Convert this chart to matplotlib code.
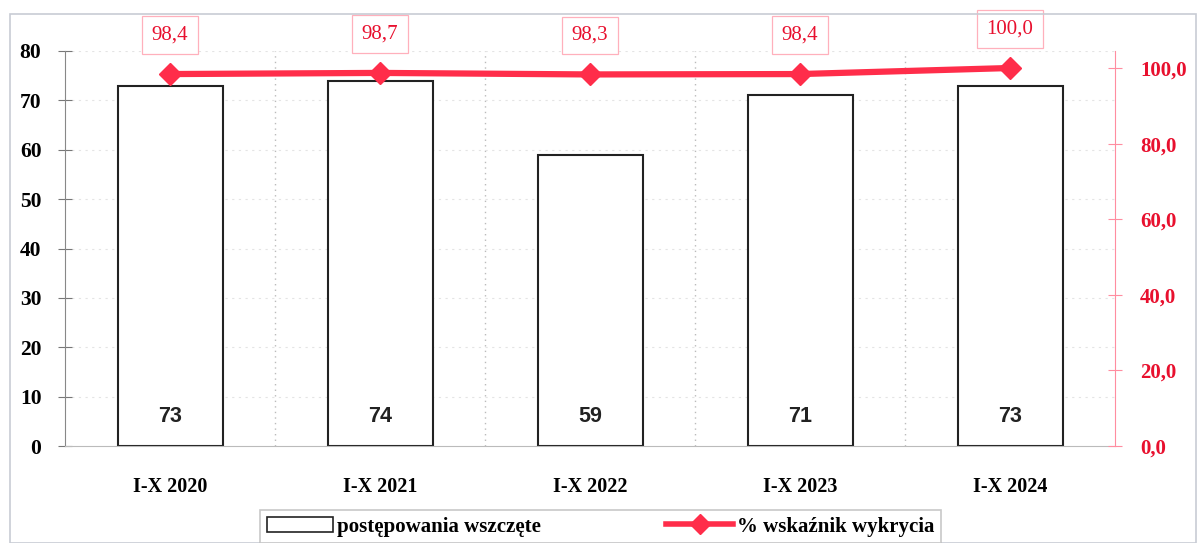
import matplotlib
matplotlib.use("Agg")
import matplotlib.pyplot as plt
from matplotlib.patches import Rectangle
from matplotlib.lines import Line2D
from matplotlib.patches import Patch

categories = ["I-X 2020", "I-X 2021", "I-X 2022", "I-X 2023", "I-X 2024"]
cases = [73, 74, 59, 71, 73]
detection = [98.4, 98.7, 98.3, 98.4, 100.0]
left_ticks = [0, 10, 20, 30, 40, 50, 60, 70, 80]
right_ticks = [0, 20, 40, 60, 80, 100]

serif = ["Liberation Serif", "DejaVu Serif"]
red = "#ff2d4a"
txt_red = "#e8102e"

fig = plt.figure(figsize=(12.01, 5.43), dpi=100)
fig.patches.append(Rectangle((10/1201, 0), 1186/1201, 1 - 14/543, transform=fig.transFigure,
                             fill=False, edgecolor="#c8ccd4", linewidth=1.2))

ax = fig.add_axes([65/1201, 1 - 446/543, 1050/1201, 395/543])
x = list(range(len(categories)))
ax.bar(x, cases, width=0.5, color="white", edgecolor="#222222", linewidth=1.5, zorder=2)
for xi, v in zip(x, cases):
    ax.text(xi, 6, str(v), ha="center", va="center", fontsize=15.5, fontweight="bold",
            family=["Liberation Sans", "DejaVu Sans"], color="#222222", zorder=3)

ax.set_xlim(-0.5, 4.5)
ax.set_ylim(0, 80)
ax.set_yticks(left_ticks)
ax.set_yticklabels([str(t) for t in left_ticks], family=serif, fontweight="bold", fontsize=15.5)
ax.set_xticks(x)
ax.set_xticklabels(categories, family=serif, fontweight="bold", fontsize=14.5)
ax.tick_params(axis="x", length=0, pad=22)
ax.tick_params(axis="y", direction="inout", length=10, color="#777777", pad=12)
for xb in [0.5, 1.5, 2.5, 3.5]:
    ax.axvline(xb, color="#bbbbbb", linestyle=(0, (1, 3)), linewidth=1, zorder=0)
for yv in left_ticks[1:]:
    ax.axhline(yv, color="#e4e4e4", linestyle=(0, (2, 4)), linewidth=0.8, zorder=0)
for s in ["top", "right"]:
    ax.spines[s].set_visible(False)
ax.spines["left"].set_color("#888888")
ax.spines["bottom"].set_color("#bbbbbb")

ax2 = ax.twinx()
ax2.plot(x, detection, color=red, linewidth=4.5, marker="D", markersize=11,
         markerfacecolor=red, markeredgecolor=red, zorder=5)
ax2.set_ylim(0, 104.5)
ax2.set_yticks(right_ticks)
ax2.set_yticklabels([f"{t:.1f}".replace(".", ",") for t in right_ticks],
                    family=serif, fontweight="bold", fontsize=15, color=txt_red)
ax2.tick_params(axis="y", direction="inout", length=10, color="#ff8da0", pad=13)
for s in ["top", "left", "bottom"]:
    ax2.spines[s].set_visible(False)
ax2.spines["right"].set_color("#ff8da0")
for xi, v in zip(x, detection):
    ax2.annotate(f"{v:.1f}".replace(".", ","), (xi, v), xytext=(0, 28), textcoords="offset points",
                 ha="center", va="center", fontsize=15, family=serif, color=txt_red,
                 bbox=dict(boxstyle="square,pad=0.45", facecolor="white", edgecolor="#ffb0bc", linewidth=0.9),
                 zorder=6)

handles = [Patch(facecolor="white", edgecolor="#222222", linewidth=1.2),
           Line2D([0], [0], color=red, linewidth=4, marker="D", markersize=10)]
leg = fig.legend(handles, ["postępowania wszczęte", "% wskaźnik wykrycia"], ncol=2,
                 loc="upper left", bbox_to_anchor=(250/1201, 1 - 500/543),
                 prop={"family": serif, "weight": "bold", "size": 15},
                 frameon=True, fancybox=False, edgecolor="#bbbbbb", handlelength=3.2,
                 columnspacing=6, borderpad=0.3, handletextpad=0.2)
leg.get_frame().set_linewidth(1.2)

fig.savefig("out.png", dpi=100)
